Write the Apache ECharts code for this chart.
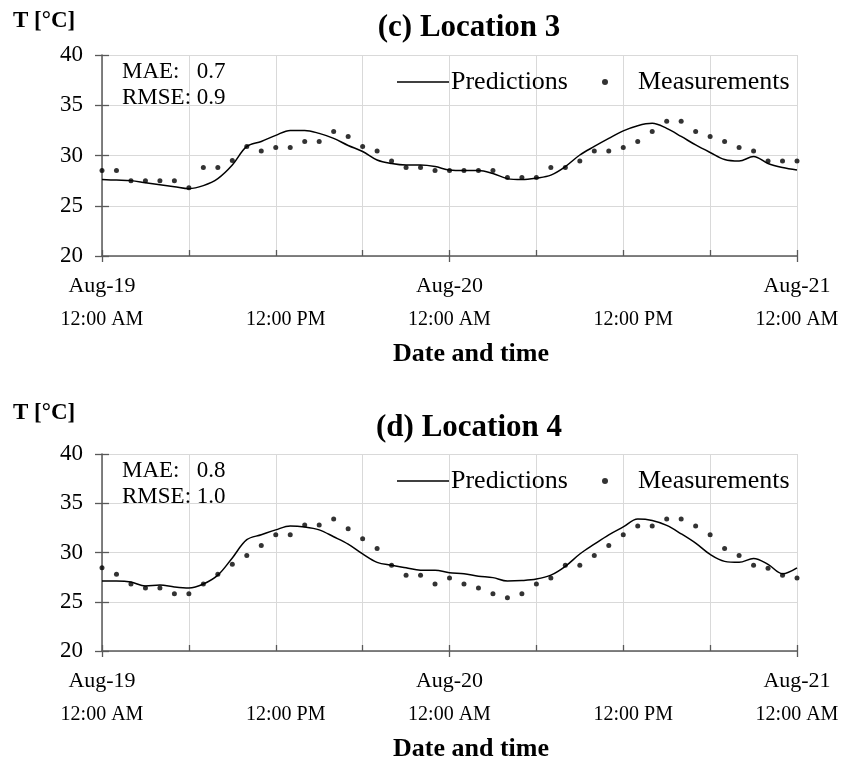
<!DOCTYPE html>
<html>
<head>
<meta charset="utf-8">
<script src="https://cdn.jsdelivr.net/npm/echarts@6/dist/echarts.min.js"></script>
<style>
  html, body { margin: 0; padding: 0; background: #fff; }
  #chart { width: 848px; height: 763px; }
</style>
</head>
<body>
<div id="chart"></div>
<script>
// hours since Aug-19 12:00 AM, one value per hour
const dateLabels = ["Aug-19", "Aug-20", "Aug-21"];
const yTicks = [20, 25, 30, 35, 40];

// (c) Location 3
const predC = [27.6, 27.55, 27.5, 27.3, 27.1, 26.9, 26.7, 27.0, 27.7, 29.05, 30.9, 31.4,
  32.0, 32.5, 32.5, 32.2, 31.7, 31.0, 30.4, 29.55, 29.2, 29.05, 29.05, 28.9,
  28.55, 28.5, 28.5, 28.2, 27.7, 27.6, 27.75, 28.05, 28.9, 30.05, 30.9, 31.7,
  32.45, 32.97, 33.2, 32.7, 31.9, 31.05, 30.3, 29.6, 29.45, 29.9, 29.2, 28.8, 28.55];
const measC = [28.5, 28.5, 27.5, 27.5, 27.5, 27.5, 26.8, 28.8, 28.8, 29.5, 30.9, 30.45,
  30.8, 30.8, 31.4, 31.4, 32.4, 31.9, 30.9, 30.45, 29.45, 28.8, 28.8, 28.5,
  28.5, 28.5, 28.5, 28.5, 27.8, 27.8, 27.8, 28.8, 28.8, 29.45, 30.45, 30.45,
  30.8, 31.4, 32.4, 33.4, 33.4, 32.4, 31.9, 31.4, 30.8, 30.45, 29.45, 29.45, 29.45];

// (d) Location 4
const predD = [27.1, 27.1, 27.0, 26.6, 26.7, 26.5, 26.4, 26.8, 27.7, 29.45, 31.3, 31.8,
  32.3, 32.7, 32.6, 32.3, 31.6, 30.85, 29.85, 29.0, 28.7, 28.45, 28.2, 28.2,
  27.95, 27.85, 27.6, 27.45, 27.1, 27.15, 27.3, 27.7, 28.6, 29.85, 30.85, 31.8,
  32.6, 33.4, 33.25, 32.75, 31.9, 30.95, 29.8, 29.1, 29.0, 29.4, 28.8, 27.85, 28.45];
const measD = [28.46, 27.8, 26.8, 26.4, 26.4, 25.8, 25.8, 26.8, 27.8, 28.8, 29.7, 30.7,
  31.8, 31.8, 32.8, 32.8, 33.4, 32.4, 31.4, 30.4, 28.7, 27.7, 27.7, 26.8,
  27.4, 26.8, 26.4, 25.8, 25.4, 25.8, 26.8, 27.4, 28.7, 28.7, 29.7, 30.7,
  31.8, 32.7, 32.7, 33.4, 33.4, 32.7, 31.8, 30.4, 29.7, 28.7, 28.4, 27.7, 27.4];

const statsC = ["MAE:   0.7", "RMSE: 0.9"];
const statsD = ["MAE:   0.8", "RMSE: 1.0"];

const font = "Liberation Serif";
const axisColor = "#595959";
const gridColor = "#d9d9d9";

function pairs(arr) {
  return arr.map((v, i) => [i, v]);
}

function xLabel(v) {
  if (v % 24 === 0) return "{d|" + dateLabels[v / 24] + "}\n{t|12:00 AM}";
  if (v % 12 === 0) return "{d| }\n{p|12:00 PM}";
  return "";
}

function xAxes(gi) {
  return [
    {
      gridIndex: gi, type: "value", min: 0, max: 48, interval: 6, position: "bottom",
      axisLine: { lineStyle: { color: axisColor, width: 1.5 } },
      axisTick: { inside: true, length: 6, lineStyle: { color: axisColor, width: 1.3 } },
      splitLine: { show: true, lineStyle: { color: gridColor, width: 1 } },
      axisLabel: {
        margin: 14, formatter: xLabel, color: "#000", fontFamily: font,
        rich: {
          d: { fontSize: 22, lineHeight: 33, fontFamily: font, color: "#000" },
          t: { fontSize: 20, lineHeight: 33, fontFamily: font, color: "#000" },
          p: { fontSize: 20, lineHeight: 33, fontFamily: font, color: "#000", padding: [0, 0, 0, 20] }
        }
      },
      name: "Date and time", nameLocation: "middle", nameGap: 85,
      nameTextStyle: { fontFamily: font, fontWeight: "bold", fontSize: 26, color: "#000", padding: [0, 0, 0, 43] }
    },
    {
      gridIndex: gi, type: "value", min: 0, max: 48, interval: 24, position: "bottom",
      axisLine: { show: false },
      axisTick: { inside: false, length: 6, lineStyle: { color: axisColor, width: 1.3 } },
      splitLine: { show: false },
      axisLabel: { show: false }
    }
  ];
}

function yAxes(gi) {
  return [
    {
      gridIndex: gi, type: "value", min: yTicks[0], max: yTicks[yTicks.length - 1], interval: 5, position: "left",
      axisLine: { show: true, lineStyle: { color: axisColor, width: 1.5 } },
      axisTick: { show: true, inside: false, length: 7, lineStyle: { color: axisColor, width: 1.3 } },
      splitLine: { show: true, lineStyle: { color: gridColor, width: 1 } },
      axisLabel: { margin: 19, fontSize: 23, fontFamily: font, color: "#000" }
    },
    {
      gridIndex: gi, type: "value", min: yTicks[0], max: yTicks[yTicks.length - 1], interval: 5, position: "left",
      axisLine: { show: false },
      axisTick: { show: true, inside: true, length: 7, lineStyle: { color: axisColor, width: 1.3 } },
      splitLine: { show: false },
      axisLabel: { show: false }
    }
  ];
}

// two legends per panel so the dot sits where the reference puts it
function legendsFor(top) {
  return [
    {
      left: 392, top: top, itemWidth: 52, itemHeight: 5, itemGap: 0, padding: 5,
      selectedMode: false,
      textStyle: { fontFamily: font, fontSize: 26, color: "#000", padding: [0, 0, 0, -3] },
      data: [{ name: "Predictions", icon: "path://M0,0 L52,0 L52,1.6 L0,1.6 Z" }]
    },
    {
      left: 597, top: top, itemWidth: 6, itemHeight: 6, itemGap: 0, padding: 5,
      selectedMode: false,
      textStyle: { fontFamily: font, fontSize: 26, color: "#000", padding: [0, 0, 0, 25] },
      data: [{ name: "Measurements", icon: "circle" }]
    }
  ];
}

function titleSet(text, top, tTop) {
  return [
    { text: text, left: 464, textAlign: "center", top: top,
      textStyle: { fontFamily: font, fontWeight: "bold", fontSize: 31, color: "#000" } },
    { text: "T [°C]", left: 8, top: tTop,
      textStyle: { fontFamily: font, fontWeight: "bold", fontSize: 23, color: "#000" } }
  ];
}

function statsTitle(lines, top) {
  return { text: lines.join("\n"), left: 117, top: top,
    textStyle: { fontFamily: font, fontWeight: "normal", fontSize: 23, lineHeight: 26, color: "#000" } };
}

function seriesFor(pi, pred, meas) {
  return [
    { name: "Predictions", type: "line", xAxisIndex: pi * 2, yAxisIndex: pi * 2,
      data: pairs(pred), showSymbol: false, smooth: 0.35,
      lineStyle: { color: "#000", width: 1.5 }, itemStyle: { color: "#000" }, z: 3 },
    { name: "Measurements", type: "scatter", xAxisIndex: pi * 2, yAxisIndex: pi * 2,
      data: pairs(meas), symbol: "circle", symbolSize: 5,
      itemStyle: { color: "#000" }, z: 4 }
  ];
}

const myChart = echarts.init(document.getElementById("chart"));
const option = {
  animation: false,
  backgroundColor: "#fff",
  title: [].concat(titleSet("(c) Location 3", 7, 5), [statsTitle(statsC, 54)],
    titleSet("(d) Location 4", 407, 397), [statsTitle(statsD, 453)]),
  legend: legendsFor(64).concat(legendsFor(463)),
  grid: [
    { left: 102, top: 55, width: 695, height: 201 },
    { left: 102, top: 454, width: 695, height: 201 }
  ],
  xAxis: xAxes(0).concat(xAxes(1)),
  yAxis: yAxes(0).concat(yAxes(1)),
  series: seriesFor(0, predC, measC).concat(seriesFor(1, predD, measD))
};
myChart.setOption(option, true);
window.addEventListener("resize", () => {
  myChart.resize();
});
</script>
</body>
</html>
